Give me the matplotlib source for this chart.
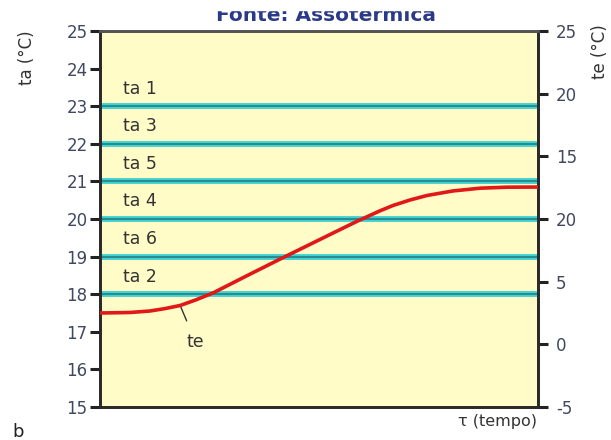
import numpy as np
import matplotlib.pyplot as plt
from matplotlib.patches import Rectangle

# ambient temperatures (left axis)
ta_names = ["ta 1", "ta 3", "ta 5", "ta 4", "ta 6", "ta 2"]
ta_values = [23, 22, 21, 20, 19, 18]

# external temperature te (right axis)
te_time = [0, 6.8, 11.4, 14.8, 18.3, 21.9, 25.8, 33.4, 41.1, 46.8, 52.5,
           58.7, 63.9, 66.9, 70.8, 74.7, 80.6, 86.8, 93.0, 100]
te_values = [2.5, 2.54, 2.66, 2.85, 3.1, 3.55, 4.1, 5.45, 6.8, 7.78, 8.76,
             9.82, 10.65, 11.08, 11.52, 11.88, 12.24, 12.46, 12.54, 12.55]

left_ticks = [15, 16, 17, 18, 19, 20, 21, 22, 23, 24, 25]
right_ticks = [-5, 0, 5, 10, 15, 20, 25]
right_labels = ["-5", "0", "5", "20", "15", "20", "25"]

TICK_COL = "#404860"
CYAN = "#3fd2d2"
DARK = "#1d5a62"


def main():
    fig = plt.figure(figsize=(6.11, 4.40), dpi=100)
    ax = fig.add_axes([0.1637, 0.075, 0.7168, 0.8545])
    ax.set_facecolor("#fffcc8")
    ax.set_xlim(0, 100)
    ax.set_ylim(15, 25)

    for name, v in zip(ta_names, ta_values):
        ax.plot([0, 100], [v, v], color=CYAN, lw=4.2, solid_capstyle="butt", zorder=2)
        ax.plot([0, 100], [v, v], color=DARK, lw=1.4, alpha=0.6, zorder=3)
        ax.text(5.3, v + 0.47, name, fontsize=12.5, color="#333333",
                ha="left", va="center")

    ax.set_yticks(left_ticks)
    ax.set_xticks([])
    ax.tick_params(axis="y", length=7, width=2.2, color="#222222",
                   labelsize=12, labelcolor=TICK_COL, pad=2)
    for s in ax.spines.values():
        s.set_linewidth(2.0)
        s.set_color("#2a2a2a")
    ax.spines["top"].set_color("#555555")

    ax2 = ax.twinx()
    ax2.set_ylim(-5, 25)
    ax2.plot(te_time, te_values, color="#e01818", lw=2.6, zorder=5,
             solid_joinstyle="round")
    ax2.set_yticks(right_ticks)
    ax2.set_yticklabels(right_labels)
    ax2.tick_params(axis="y", length=7, width=2.2, color="#222222",
                    labelsize=12, labelcolor=TICK_COL, pad=6)
    for s in ax2.spines.values():
        s.set_linewidth(2.0)
        s.set_color("#2a2a2a")
    ax2.spines["top"].set_color("#555555")

    ax2.annotate("te", xy=(te_time[4], te_values[4]), xytext=(11, -26),
                 textcoords="offset points", fontsize=12.5, color="#333333",
                 ha="center", va="center",
                 arrowprops=dict(arrowstyle="-", color="#333333", lw=1.0,
                                 shrinkA=7, shrinkB=0))

    # title, top part hidden as in the source
    fig.text(0.5336, 1 - 21 / 440, "Fonte: Assotermica", fontsize=14.5,
             color="#2b3a86", fontweight="bold", ha="center", va="baseline")
    fig.add_artist(Rectangle((0, 1 - 10 / 440), 1, 10 / 440,
                             transform=fig.transFigure, color="white", zorder=10))

    fig.text(27 / 611, 1 - 58 / 440, "ta (°C)", rotation=90, fontsize=12,
             color="#333333", ha="center", va="center")
    fig.text(600 / 611, 1 - 52 / 440, "te (°C)", rotation=90, fontsize=12,
             color="#333333", ha="center", va="center")
    fig.text(18 / 611, 1 - 432 / 440, "b", fontsize=13, color="#222222",
             ha="center", va="center")
    fig.text(537 / 611, 1 - 421 / 440, "τ (tempo)", fontsize=11.5,
             color="#333333", ha="right", va="center")

    fig.savefig("out.png", dpi=100)


if __name__ == "__main__":
    main()
